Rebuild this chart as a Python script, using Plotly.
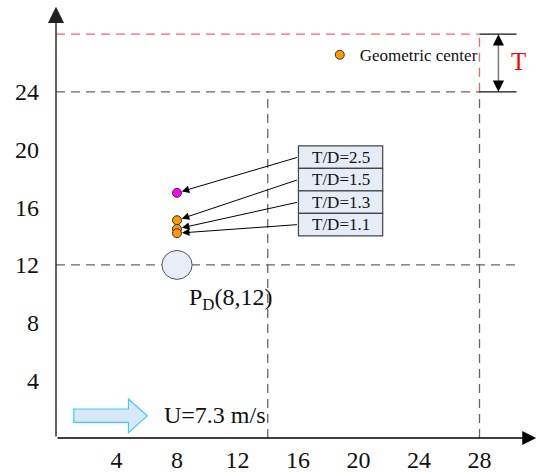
import plotly.graph_objects as go

# ---------------- data ----------------
td_labels = ["T/D=2.5", "T/D=1.5", "T/D=1.3", "T/D=1.1"]
td_values = [2.5, 1.5, 1.3, 1.1]
center_x = [8, 8, 8, 8]
center_y = [17.0, 15.1, 14.5, 14.2]
cyl_x, cyl_y, cyl_d = 8, 12, 2
x_ticks = [4, 8, 12, 16, 20, 24, 28]
y_ticks = [4, 8, 12, 16, 20, 24]
x_splits = [14, 28]
y_splits = [12, 24]
t_top = 28
wind_label = "U=7.3 m/s"

FONT = "Liberation Serif"
GRAY = "#666666"
RED = "#ff6060"

fig = go.Figure()

# geometric centers
fig.add_trace(go.Scatter(
    x=[center_x[0]], y=[center_y[0]], mode="markers",
    marker=dict(size=9, color="#ff00ff", line=dict(color="#333333", width=1)),
    showlegend=False, hoverinfo="skip"))
fig.add_trace(go.Scatter(
    x=center_x[1:], y=center_y[1:], mode="markers", name="Geometric center",
    marker=dict(size=9, color="#ff9900", line=dict(color="#333333", width=1)),
    showlegend=True))

shapes = []
dash = "9px,6px"
xmax_line = 30.45
# horizontal dashed lines
shapes.append(dict(type="line", x0=0, x1=xmax_line, y0=y_splits[0], y1=y_splits[0],
                   line=dict(color=GRAY, width=1.3, dash=dash)))
shapes.append(dict(type="line", x0=0, x1=x_splits[1], y0=y_splits[1], y1=y_splits[1],
                   line=dict(color=GRAY, width=1.3, dash=dash)))
shapes.append(dict(type="line", x0=0, x1=x_splits[1], y0=t_top, y1=t_top,
                   line=dict(color=RED, width=1.3, dash=dash)))
# vertical dashed lines
shapes.append(dict(type="line", x0=x_splits[0], x1=x_splits[0], y0=0, y1=y_splits[1],
                   line=dict(color=GRAY, width=1.3, dash=dash)))
shapes.append(dict(type="line", x0=x_splits[1], x1=x_splits[1], y0=0, y1=y_splits[1],
                   line=dict(color=GRAY, width=1.3, dash=dash)))
shapes.append(dict(type="line", x0=x_splits[1], x1=x_splits[1], y0=y_splits[1], y1=t_top,
                   line=dict(color=RED, width=1.3, dash=dash)))
# dimension lines for T
for yy in (y_splits[1], t_top):
    shapes.append(dict(type="line", x0=x_splits[1], x1=xmax_line, y0=yy, y1=yy,
                       line=dict(color="#111111", width=1.2)))
t_arrow_x = 29.25
shapes.append(dict(type="line", x0=t_arrow_x, x1=t_arrow_x, y0=y_splits[1] + 0.3, y1=t_top - 0.3,
                   line=dict(color="#808080", width=1.6)))
# cylinder
shapes.append(dict(type="circle", x0=cyl_x - cyl_d / 2, x1=cyl_x + cyl_d / 2,
                   y0=cyl_y - cyl_d / 2, y1=cyl_y + cyl_d / 2,
                   fillcolor="#e8eef8", line=dict(color="#555555", width=1)))
# label boxes
box_x0, box_x1, box_top, box_h = 16.03, 21.6, 20.26, 1.56
for i, lab in enumerate(td_labels):
    y1 = box_top - i * box_h
    y0 = y1 - box_h
    shapes.append(dict(type="rect", x0=box_x0, x1=box_x1, y0=y0, y1=y1,
                       fillcolor="#e6ecf6", line=dict(color="#444444", width=1.2)))
# wind arrow
wl, wb, wt, sh0, sh1, hy0, hy1 = 1.18, 4.79, 6.03, 1.09, 2.01, 0.37, 2.70
wy = (hy0 + hy1) / 2
shapes.append(dict(type="path",
                   path=f"M {wl},{sh0} L {wb},{sh0} L {wb},{hy0} L {wt},{wy} L {wb},{hy1} L {wb},{sh1} L {wl},{sh1} Z",
                   fillcolor="#d8e8fa", line=dict(color="#33ccff", width=1.2)))

annotations = []
# axis arrows
annotations.append(dict(x=0, y=29.9, ax=0, ay=0, axref="x", ayref="y", xref="x", yref="y",
                        showarrow=True, arrowhead=2, arrowsize=2.3, arrowwidth=1.4,
                        arrowcolor="#222222", text=""))
annotations.append(dict(x=31.75, y=0, ax=0, ay=0, axref="x", ayref="y", xref="x", yref="y",
                        showarrow=True, arrowhead=2, arrowsize=2.0, arrowwidth=1.4,
                        arrowcolor="#000000", text=""))
# T arrow heads
annotations.append(dict(x=t_arrow_x, y=t_top, ax=0, ay=11, showarrow=True, arrowhead=2,
                        arrowsize=1.5, arrowwidth=1.5, arrowcolor="#000000", text=""))
annotations.append(dict(x=t_arrow_x, y=y_splits[1], ax=0, ay=-11, showarrow=True, arrowhead=2,
                        arrowsize=1.5, arrowwidth=1.5, arrowcolor="#000000", text=""))
annotations.append(dict(x=30.55, y=(y_splits[1] + t_top) / 2 + 0.1, text="T", showarrow=False,
                        font=dict(family=FONT, size=25, color="#ff0000")))
# box labels and arrows
for i, lab in enumerate(td_labels):
    yc = box_top - i * box_h - box_h / 2
    annotations.append(dict(x=(box_x0 + box_x1) / 2, y=yc, text=lab, showarrow=False,
                            font=dict(family=FONT, size=17, color="#111111")))
    annotations.append(dict(x=center_x[i], y=center_y[i], ax=box_x0, ay=yc,
                            axref="x", ayref="y", showarrow=True, arrowhead=2,
                            arrowsize=1.5, arrowwidth=1, arrowcolor="#000000",
                            standoff=5, text=""))
# P_D label
annotations.append(dict(x=cyl_x + 3.55, y=cyl_y - 2.35, text=f"P<sub>D</sub>({cyl_x},{cyl_y})",
                        showarrow=False, font=dict(family=FONT, size=24, color="#111111")))
# wind label
annotations.append(dict(x=7.0, y=1.6, text=wind_label, showarrow=False, xanchor="left",
                        font=dict(family=FONT, size=24, color="#111111")))

fig.update_layout(
    width=540, height=473,
    margin=dict(l=56, r=0, t=0, b=35),
    plot_bgcolor="white", paper_bgcolor="white",
    shapes=shapes, annotations=annotations,
    showlegend=True,
    legend=dict(x=0.545, y=0.915, xanchor="left", yanchor="top",
                bgcolor="rgba(0,0,0,0)", borderwidth=0,
                font=dict(family=FONT, size=17, color="#111111"),
                itemwidth=30),
    xaxis=dict(range=[0, 32], showgrid=False, zeroline=False, showline=False,
               tickvals=x_ticks, ticktext=[str(v) for v in x_ticks], ticks="",
               ticklabelstandoff=5, automargin=False,
               tickfont=dict(family=FONT, size=24, color="#111111")),
    yaxis=dict(range=[0, 30.37], showgrid=False, zeroline=False, showline=False,
               tickvals=y_ticks, ticktext=[str(v) for v in y_ticks], ticks="",
               ticklabelstandoff=16, automargin=False,
               tickfont=dict(family=FONT, size=24, color="#111111")),
    hovermode=False,
)

fig.write_html("out.html")
